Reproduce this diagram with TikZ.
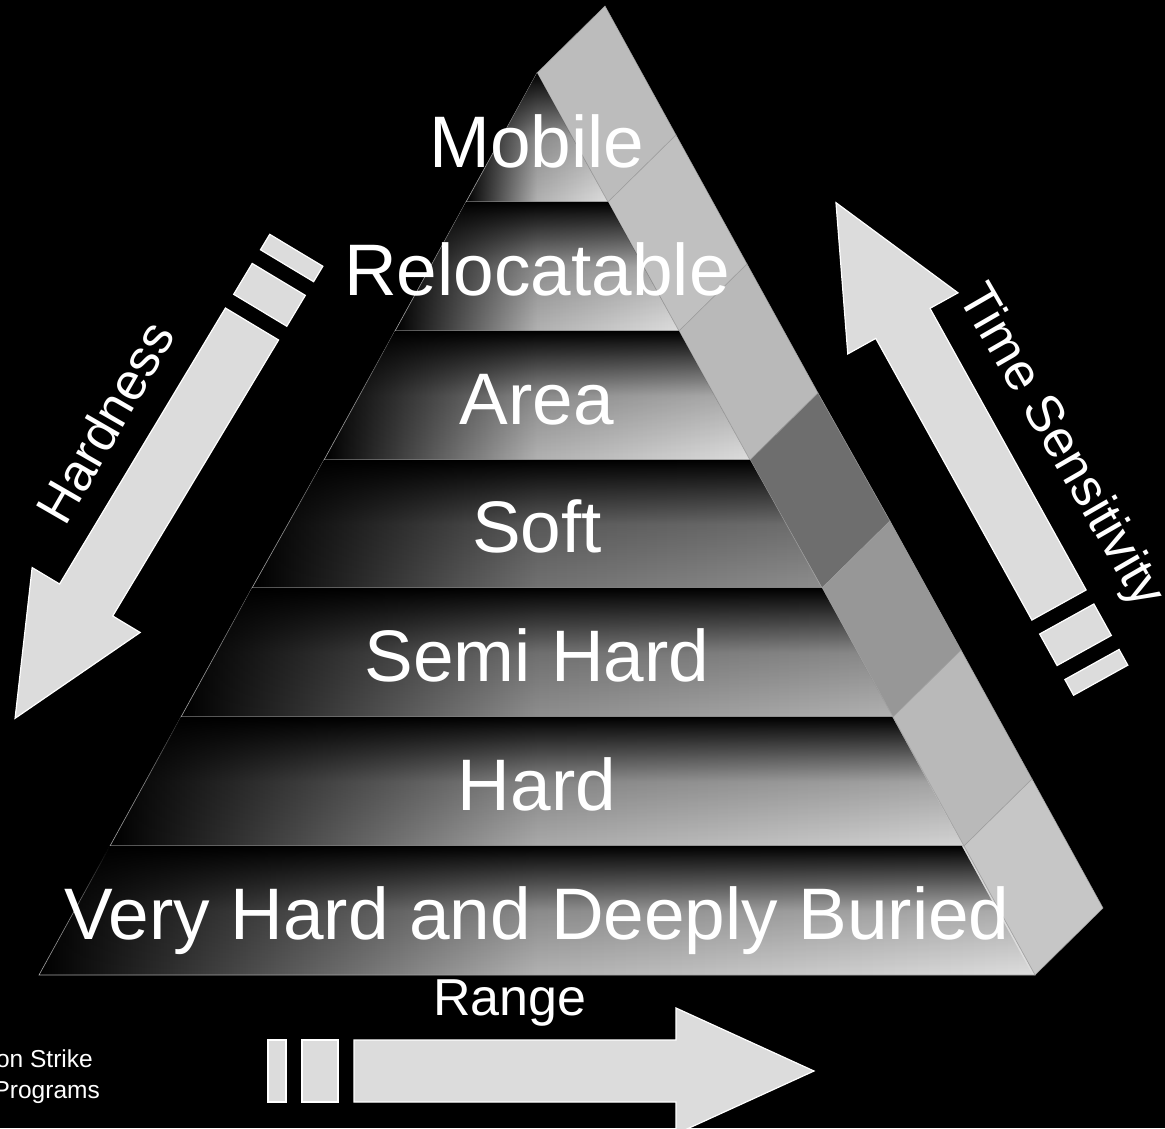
\documentclass[tikz,border=0pt]{standalone}
\usepackage{fontspec}
\setmainfont{Liberation Sans}
\usetikzlibrary{fadings}
\definecolor{arrowgray}{HTML}{DCDCDC}
\definecolor{bandlight}{HTML}{DEDEDE}
\definecolor{softlight}{HTML}{8E8E8E}
\definecolor{semilight}{HTML}{B2B2B2}
\definecolor{hardlight}{HTML}{D4D4D4}
\definecolor{sidemob}{HTML}{BCBCBC}
\definecolor{sidereloc}{HTML}{C0C0C0}
\definecolor{sidearea}{HTML}{B9B9B9}
\definecolor{sidesoft}{HTML}{6E6E6E}
\definecolor{sidesemi}{HTML}{979797}
\definecolor{sidehard}{HTML}{B9B9B9}
\definecolor{sidevhard}{HTML}{C6C6C6}
\tikzfading[name=bandfade, top color=transparent!0, bottom color=transparent!100, middle color=transparent!78]
\tikzset{
  side/.style={fill=#1, draw=gray!75, line width=0.5pt},
  band/.style={left color=black, right color=#1, middle color=#1!80!black,
    draw=gray!70, line width=0.6pt, postaction={fill=black, path fading=bandfade}},
  arrowpart/.style={fill=arrowgray, draw=white, line width=1.2pt},
  layer/.style={text=white, font=\fontsize{73}{80}\selectfont, anchor=base, inner sep=0pt},
  axis/.style={text=white, font=\fontsize{52}{60}\selectfont, inner sep=0pt},
  note/.style={text=white, font=\fontsize{24.5}{29}\selectfont, anchor=base east, inner sep=0pt},
  blockarrow/.pic={
    \path[arrowpart] (0,-31) -- (322,-31) -- (322,-63) -- (460,0) -- (322,63) -- (322,31) -- (0,31) -- cycle;
    \path[arrowpart] (-16,-31) rectangle (-52,31);
    \path[arrowpart] (-68,-31) rectangle (-86,31);
  }
}
\begin{document}
\begin{tikzpicture}[x=1pt,y=-1pt]
	\useasboundingbox (0,0) rectangle (1165,1128);
	\fill[black] (0,0) rectangle (1165,1128);
	% side face of the pyramid
	\path[side=sidemob] (537,73) -- (608,202) -- (676,135) -- (605,6) -- cycle;
	\path[side=sidereloc] (608,202) -- (679,331) -- (747,264) -- (676,135) -- cycle;
	\path[side=sidearea] (679,331) -- (750,460) -- (818,393) -- (747,264) -- cycle;
	\path[side=sidesoft] (750,460) -- (822,588) -- (890,521) -- (818,393) -- cycle;
	\path[side=sidesemi] (822,588) -- (893,717) -- (961,650) -- (890,521) -- cycle;
	\path[side=sidehard] (893,717) -- (964,846) -- (1032,779) -- (961,650) -- cycle;
	\path[side=sidevhard] (964,846) -- (1035,975) -- (1103,908) -- (1032,779) -- cycle;
	% front face, one band per layer
	\shade[band=bandlight] (537,73) -- (466,202) -- (608,202) -- cycle;
	\shade[band=bandlight] (466,202) -- (395,331) -- (679,331) -- (608,202) -- cycle;
	\shade[band=bandlight] (395,331) -- (324,460) -- (750,460) -- (679,331) -- cycle;
	\shade[band=softlight] (324,460) -- (252,588) -- (822,588) -- (750,460) -- cycle;
	\shade[band=semilight] (252,588) -- (181,717) -- (893,717) -- (822,588) -- cycle;
	\shade[band=hardlight] (181,717) -- (110,846) -- (964,846) -- (893,717) -- cycle;
	\shade[band=bandlight] (110,846) -- (39,975) -- (1035,975) -- (964,846) -- cycle;
	\node[layer] (mobile) at (537,167) {Mobile};
	\node[layer] (reloc) at (537,295) {Relocatable};
	\node[layer] (area) at (537,424) {Area};
	\node[layer] (soft) at (537,552) {Soft};
	\node[layer] (semihard) at (537,681) {Semi Hard};
	\node[layer] (hard) at (537,810) {Hard};
	\node[layer] (vhard) at (537,939) {Very Hard and Deeply Buried};
	% the three scales
	\pic[rotate=239] at (252,324) {blockarrow};
	\pic[rotate=119] at (1059,605) {blockarrow};
	\pic at (354,1071) {blockarrow};
	\node[axis, rotate=60] (hardness) at (105,422) {Hardness};
	\node[axis, rotate=-60] (timesens) at (1060,447) {Time Sensitivity};
	\node[axis, anchor=base] (range) at (510,1015) {Range};
	\node[note] (strike) at (93,1067) {on Strike};
	\node[note] (programs) at (100,1098) {Programs};
\end{tikzpicture}
\end{document}
